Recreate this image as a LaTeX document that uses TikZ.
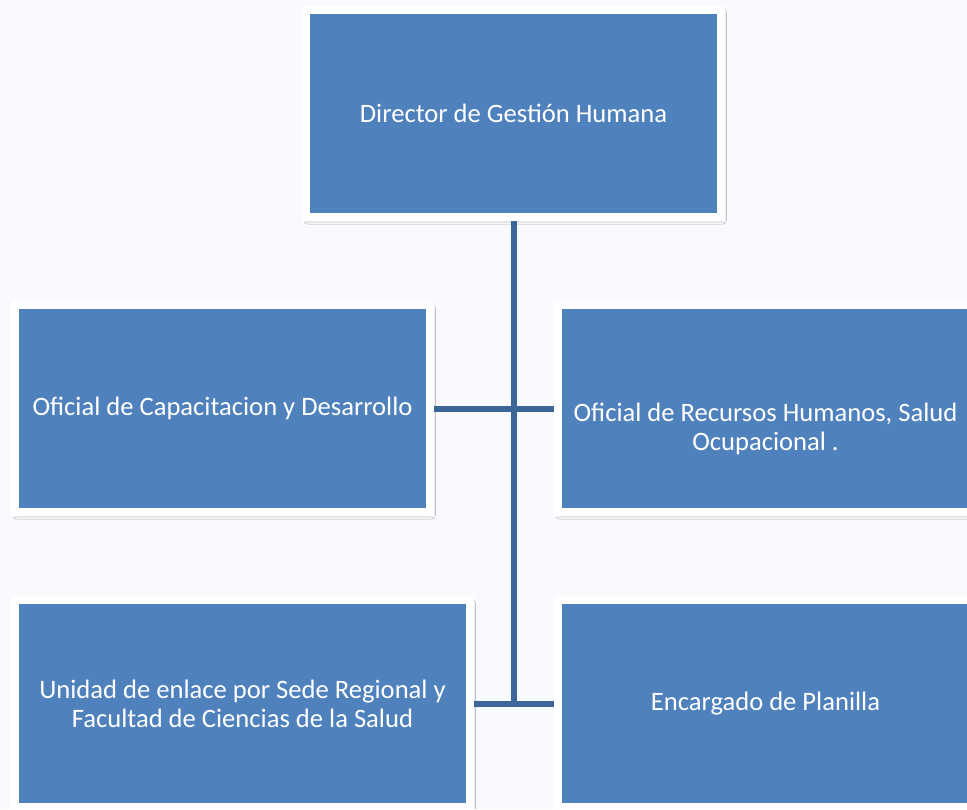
\documentclass[tikz,border=0pt]{standalone}
\usepackage{fontspec}
\setmainfont{Carlito}
\usetikzlibrary{shadows.blur}
\definecolor{boxblue}{HTML}{4F81BD}
\definecolor{linkblue}{HTML}{3C6697}
\definecolor{bgcol}{HTML}{F8FAFD}
\tikzset{
  orgbox/.style={rectangle, fill=boxblue, draw=white, line width=8pt,
    minimum width=#1, minimum height=207pt, inner sep=0pt,
    text=white, align=center, font=\fontsize{26.6}{29}\selectfont,
    blur shadow={shadow xshift=1.5pt, shadow yshift=-3pt, shadow blur radius=4pt, shadow opacity=35}},
  orgbox/.default=415pt,
  orgtext/.style={text=white, align=center, font=\fontsize{26.6}{29}\selectfont, inner sep=0pt},
  link/.style={draw=linkblue, line width=6pt}
}
\begin{document}
\begin{tikzpicture}[x=1pt,y=-1pt]
\useasboundingbox (0,0) rectangle (967,809);
\clip (0,0) rectangle (967,809);
\fill[bgcol] (0,0) rectangle (967,809);
\node[orgbox] (dir) at (513.5,113.5) {Director de Gestión Humana};
\node[orgbox] (cap) at (222.5,408.5) {Oficial de Capacitacion y Desarrollo};
\node[orgbox] (rrhh) at (765.5,408.5) {};
\node[orgtext] (rrhhtext) at (765.5,429) {Oficial de Recursos Humanos, Salud\\Ocupacional .};
\node[orgbox=455pt] (enl) at (242.5,703.5) {Unidad de enlace por Sede Regional y\\Facultad de Ciencias de la Salud};
\node[orgbox] (pla) at (765.5,703.5) {Encargado de Planilla};
\coordinate (join) at (513.5,703.5);
\draw[link] (dir.south) -- (join);
\draw[link] (cap.east) -- (rrhh.west);
\draw[link] (enl.east) -- (pla.west);
\end{tikzpicture}
\end{document}
